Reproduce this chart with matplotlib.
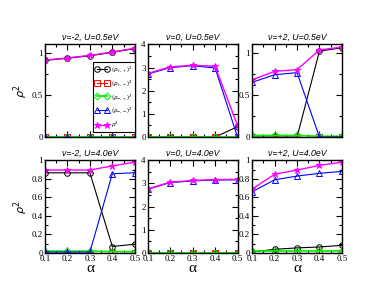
import numpy as np
import matplotlib
matplotlib.use('Agg')
import matplotlib.pyplot as plt
from matplotlib.ticker import MultipleLocator

alpha = [0.1, 0.2, 0.3, 0.4, 0.5]
titles = ['ν=-2, U=0.5eV', 'ν=0, U=0.5eV', 'ν=+2, U=0.5eV',
          'ν=-2, U=4.0eV', 'ν=0, U=4.0eV', 'ν=+2, U=4.0eV']

# (rho_{+,+})^2
pp = [[0.91, 0.935, 0.965, 1.005, 1.05],
      [0.0, 0.0, 0.0, 0.0, 0.45],
      [0.0, 0.0, 0.0, 1.02, 1.06],
      [0.865, 0.865, 0.865, 0.07, 0.095],
      [0.0, 0.0, 0.0, 0.0, 0.0],
      [0.01, 0.04, 0.055, 0.065, 0.083]]
# (rho_{+,-})^2
pm = [[0.0, 0.0, 0.0, 0.0, 0.0],
      [0.0, 0.0, 0.0, 0.0, 0.0],
      [0.005, 0.005, 0.005, 0.005, 0.005],
      [0.005, 0.005, 0.005, 0.005, 0.005],
      [0.0, 0.0, 0.0, 0.0, 0.0],
      [0.005, 0.005, 0.005, 0.005, 0.005]]
# (rho_{-,+})^2
mp = [[0.005, 0.005, 0.005, 0.005, 0.005],
      [0.0, 0.0, 0.0, 0.0, 0.0],
      [0.02, 0.02, 0.02, 0.01, 0.01],
      [0.02, 0.02, 0.02, 0.015, 0.015],
      [0.0, 0.0, 0.0, 0.0, 0.0],
      [0.02, 0.02, 0.02, 0.02, 0.02]]
# (rho_{-,-})^2
mm = [[0.0, 0.0, 0.0, 0.0, 0.0],
      [2.72, 3.0, 3.08, 2.98, 0.0],
      [0.65, 0.74, 0.765, 0.0, 0.0],
      [0.01, 0.01, 0.01, 0.855, 0.866],
      [2.75, 3.04, 3.11, 3.15, 3.16],
      [0.66, 0.79, 0.83, 0.86, 0.88]]
# rho^2
tot = [[0.915, 0.94, 0.97, 1.01, 1.055],
       [2.75, 3.03, 3.1, 3.05, 0.5],
       [0.68, 0.78, 0.8, 1.035, 1.068],
       [0.895, 0.895, 0.895, 0.94, 0.98],
       [2.77, 3.06, 3.13, 3.17, 3.18],
       [0.69, 0.85, 0.895, 0.945, 0.98]]

ylims = [1.1, 4, 1.1, 1, 4, 1]
yticks = {1.1: ([0, 0.5, 1], ['0', '0.5', '1'], 0.25),
          4: ([0, 1, 2, 3, 4], ['0', '1', '2', '3', '4'], 0.5),
          1: ([0, 0.2, 0.4, 0.6, 0.8, 1], ['0', '0.2', '0.4', '0.6', '0.8', '1'], 0.1)}

fig = plt.figure(figsize=(3.85, 2.98), dpi=100)
lefts = [0.117, 0.384, 0.655]
w = 0.233
bots = [0.540, 0.151]
h = 0.311

serif = 'Liberation Serif'
labels = [r'$(\rho_{+,+})^2$', r'$(\rho_{+,-})^2$', r'$(\rho_{-,+})^2$',
          r'$(\rho_{-,-})^2$', r'$\rho^2$']

for i in range(6):
    r, c = divmod(i, 3)
    ax = fig.add_axes([lefts[c], bots[r], w, h])
    ax.plot(alpha, pp[i], '-o', color='black', mfc='none', ms=4, lw=0.8, mew=0.7, label=labels[0])
    ax.plot(alpha, pm[i], '-s', color='#ff0000', mfc='none', ms=4, lw=0.8, mew=0.7, label=labels[1])
    ax.plot(alpha, mp[i], '-D', color='#00ee00', mfc='none', ms=3.5, lw=1.2, mew=0.7, label=labels[2])
    ax.plot(alpha, mm[i], '-^', color='#0000ff', mfc='none', ms=4.5, lw=0.8, mew=0.7, label=labels[3])
    ax.plot(alpha, tot[i], '-*', color='#ff00ff', ms=4.5, lw=1.0, mew=0.7, label=labels[4])
    ax.set_xlim(0.1, 0.5)
    ax.set_ylim(0, ylims[i])
    ax.xaxis.set_minor_locator(MultipleLocator(0.05))
    tk, tl, mn = yticks[ylims[i]]
    ax.set_yticks(tk)
    ax.set_yticklabels(tl, fontfamily=serif)
    ax.yaxis.set_minor_locator(MultipleLocator(mn))
    ax.set_xticks([0.1, 0.2, 0.3, 0.4, 0.5])
    if r == 0:
        ax.set_xticklabels([])
    else:
        ax.set_xticklabels(['0.1', '0.2', '0.3', '0.4', '0.5'], fontfamily=serif)
        ax.set_xlabel('α', fontfamily=serif, fontsize=11, labelpad=-1)
    ax.tick_params(which='both', direction='in', top=True, right=True, labelsize=6.5, pad=1.5, width=0.8)
    ax.tick_params(which='major', length=4)
    ax.tick_params(which='minor', length=2)
    for s in ax.spines.values():
        s.set_linewidth(1.0)
    if c == 0:
        ax.set_ylabel(r'$\rho^2$', fontsize=8, labelpad=1)
    ax.set_title(titles[i], fontsize=6.3, style='italic', fontfamily='Liberation Sans', pad=3)
    if i == 0:
        leg = ax.legend(loc='lower right', bbox_to_anchor=(1.0, 0.06), fontsize=4,
                        fancybox=False, edgecolor='black', framealpha=1, numpoints=2,
                        handlelength=2.4, borderpad=0.3, labelspacing=0.75, handletextpad=0.5,
                        borderaxespad=0)
        leg.get_frame().set_linewidth(0.8)

fig.savefig('out.png', dpi=100)
